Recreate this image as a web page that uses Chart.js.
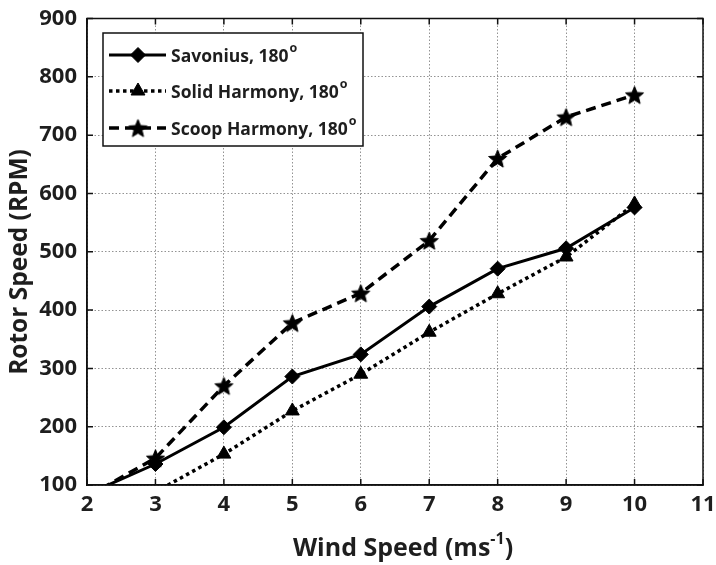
<!DOCTYPE html>
<html>
<head>
<meta charset="utf-8">
<script src="https://cdn.jsdelivr.net/npm/chart.js@4.4.1/dist/chart.umd.min.js"></script>
<style>
  html, body { margin: 0; padding: 0; background: #fff; }
  #wrap { width: 716px; height: 565px; position: relative; }
</style>
</head>
<body>
<div id="wrap"><canvas id="c" width="716" height="565"></canvas></div>
<script>
// Wind speed (m/s) at which each rotor was measured
const windSpeed = [2, 3, 4, 5, 6, 7, 8, 9, 10];
const solidWindSpeed = [3, 4, 5, 6, 7, 8, 9, 10];

// Rotor speed (RPM)
const savonius = [84, 136, 199, 286, 324, 406, 471, 506, 576];
const solidHarmony = [88, 153, 227, 290, 362, 428, 491, 582];
const scoopHarmony = [80, 146, 270, 378, 429, 519, 660, 731, 769];

const seriesNames = ['Savonius, 180', 'Solid Harmony, 180', 'Scoop Harmony, 180'];
const xTicks = [2, 3, 4, 5, 6, 7, 8, 9, 10, 11];
const yTicks = [100, 200, 300, 400, 500, 600, 700, 800, 900];

const FONT = '"Open Sans", Lato, sans-serif';
const INK = '#1e1e1e';

// Filled five-point star marker
function makeStar(outer, inner) {
  const s = Math.ceil(outer * 2 + 4);
  const cv = document.createElement('canvas');
  cv.width = s; cv.height = s;
  const g = cv.getContext('2d');
  g.translate(s / 2, s / 2 + outer * 0.1);
  g.beginPath();
  for (let i = 0; i < 10; i++) {
    const r = i % 2 === 0 ? outer : inner;
    const a = -Math.PI / 2 + i * Math.PI / 5;
    const px = r * Math.cos(a), py = r * Math.sin(a);
    if (i === 0) g.moveTo(px, py); else g.lineTo(px, py);
  }
  g.closePath();
  g.fillStyle = '#000';
  g.fill();
  g.strokeStyle = '#000';
  g.lineWidth = 1;
  g.stroke();
  return cv;
}
const starMarker = makeStar(9.5, 4.2);

const pairs = (xs, ys) => xs.map((x, i) => ({ x: x, y: ys[i] }));

const datasets = [
  {
    label: seriesNames[0],
    data: pairs(windSpeed, savonius),
    borderColor: '#000', backgroundColor: '#000',
    borderWidth: 3, borderDash: [],
    pointStyle: 'rectRot', pointRadius: 7.5, pointBorderWidth: 1,
    pointBackgroundColor: '#000', pointBorderColor: '#000'
  },
  {
    label: seriesNames[1],
    data: pairs(solidWindSpeed, solidHarmony),
    borderColor: '#000', backgroundColor: '#000',
    borderWidth: 3.5, borderDash: [3.5, 3.5],
    pointStyle: 'triangle', pointRadius: 8, pointBorderWidth: 1,
    pointBackgroundColor: '#000', pointBorderColor: '#000'
  },
  {
    label: seriesNames[2],
    data: pairs(windSpeed, scoopHarmony),
    borderColor: '#000', backgroundColor: '#000',
    borderWidth: 3.5, borderDash: [10, 6],
    pointStyle: starMarker, pointRadius: 9,
    pointBackgroundColor: '#000', pointBorderColor: '#000'
  }
];
datasets.forEach(d => { d.tension = 0; d.fill = false; d.clip = 0; });

// Box frame, inward tick marks, axis titles and the legend panel
const decorations = {
  id: 'decorations',
  afterDatasetsDraw(chart) {
    const { ctx, chartArea: a, scales } = chart;
    ctx.save();
    // frame
    ctx.strokeStyle = '#111';
    ctx.lineWidth = 1.5;
    ctx.setLineDash([]);
    ctx.strokeRect(a.left, a.top, a.right - a.left, a.bottom - a.top);
    // inward ticks
    ctx.beginPath();
    xTicks.forEach(v => {
      const px = scales.x.getPixelForValue(v);
      ctx.moveTo(px, a.bottom); ctx.lineTo(px, a.bottom - 6);
      ctx.moveTo(px, a.top); ctx.lineTo(px, a.top + 6);
    });
    yTicks.forEach(v => {
      const py = scales.y.getPixelForValue(v);
      ctx.moveTo(a.left, py); ctx.lineTo(a.left + 6, py);
      ctx.moveTo(a.right, py); ctx.lineTo(a.right - 6, py);
    });
    ctx.stroke();

    ctx.fillStyle = INK;
    ctx.textBaseline = 'alphabetic';
    // x title with superscript
    const cx = 403;
    const big = 'bold 25px ' + FONT, small = 'bold 16px ' + FONT;
    const main = 'Wind Speed (ms';
    ctx.font = small;
    const supW = ctx.measureText('-1').width;
    ctx.font = big;
    const mainW = ctx.measureText(main).width;
    const closeW = ctx.measureText(')').width;
    const x0 = cx - (mainW + supW + closeW) / 2;
    const by = 556;
    ctx.textAlign = 'left';
    ctx.fillText(main, x0, by);
    ctx.font = small;
    ctx.fillText('-1', x0 + mainW, by - 12);
    ctx.font = big;
    ctx.fillText(')', x0 + mainW + supW, by);

    // y title
    ctx.save();
    ctx.translate(20, 262);
    ctx.rotate(-Math.PI / 2);
    ctx.textAlign = 'center';
    ctx.textBaseline = 'middle';
    ctx.font = 'bold 24.5px ' + FONT;
    ctx.fillText('Rotor Speed (RPM)', 0, 0);
    ctx.restore();

    // legend panel
    const L = 103, T = 33, R = 363, B = 146;
    ctx.fillStyle = '#fff';
    ctx.fillRect(L, T, R - L, B - T);
    ctx.strokeStyle = '#111';
    ctx.lineWidth = 1.5;
    ctx.strokeRect(L, T, R - L, B - T);
    const rows = [55, 91, 128];
    chart.data.datasets.forEach((ds, i) => {
      const y = rows[i];
      ctx.save();
      ctx.strokeStyle = '#000';
      ctx.lineWidth = ds.borderWidth;
      ctx.setLineDash(ds.borderDash);
      ctx.beginPath();
      ctx.moveTo(109, y); ctx.lineTo(166, y);
      ctx.stroke();
      ctx.restore();
      ctx.save();
      ctx.fillStyle = '#000';
      ctx.strokeStyle = '#000';
      ctx.lineWidth = ds.pointBorderWidth || 0;
      Chart.helpers.drawPoint(ctx, {
        pointStyle: ds.pointStyle, radius: ds.pointRadius, rotation: 0,
        borderWidth: ds.pointBorderWidth || 0
      }, 138, y);
      ctx.restore();
      ctx.fillStyle = INK;
      ctx.textAlign = 'left';
      ctx.textBaseline = 'middle';
      ctx.font = 'bold 17.5px ' + FONT;
      ctx.fillText(ds.label, 171, y + 2);
      const w = ctx.measureText(ds.label).width;
      ctx.font = 'bold 12.5px ' + FONT;
      ctx.fillText('o', 171 + w + 1, y - 7);
    });
    ctx.restore();
  }
};

const tickFont = { family: FONT, size: 22, weight: 'bold', lineHeight: 1.2 };

new Chart(document.getElementById('c'), {
  type: 'line',
  data: { datasets: datasets },
  options: {
    responsive: false,
    animation: false,
    devicePixelRatio: 1,
    layout: { padding: { top: 18.5, right: 13, left: 0, bottom: 0 } },
    plugins: { legend: { display: false }, tooltip: { enabled: false } },
    scales: {
      x: {
        type: 'linear', min: 2, max: 11,
        afterBuildTicks: s => { s.ticks = xTicks.map(v => ({ value: v })); },
        afterFit: s => { s.height = 80; s.paddingLeft = 0; s.paddingRight = 0; },
        grid: { color: 'rgba(120,120,120,0.8)', lineWidth: 1, drawTicks: false },
        border: { display: true, color: '#111', width: 1.5, dash: [1.5, 2] },
        ticks: { color: INK, font: tickFont, padding: 7 }
      },
      y: {
        type: 'linear', min: 100, max: 900,
        afterBuildTicks: s => { s.ticks = yTicks.map(v => ({ value: v })); },
        afterFit: s => { s.width = 87; s.paddingTop = 0; s.paddingBottom = 0; },
        grid: { color: 'rgba(120,120,120,0.8)', lineWidth: 1, drawTicks: false },
        border: { display: true, color: '#111', width: 1.5, dash: [1.5, 2] },
        ticks: { color: INK, font: tickFont, padding: 10 }
      }
    }
  },
  plugins: [decorations]
});
</script>
</body>
</html>
